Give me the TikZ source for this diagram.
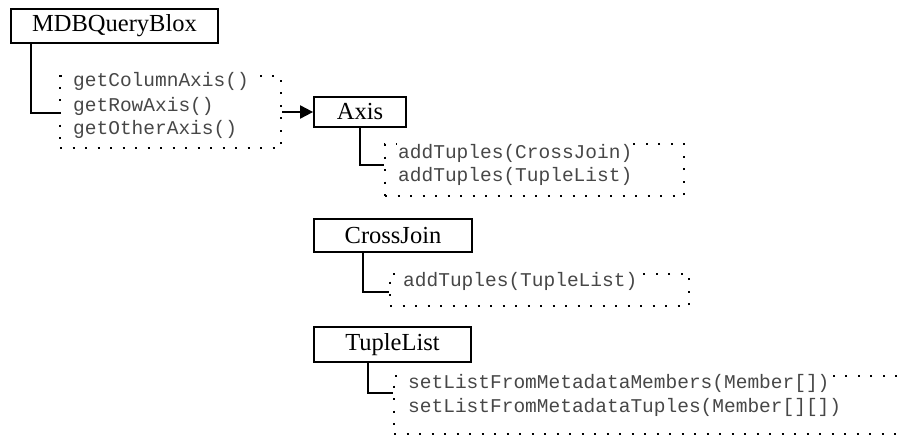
\documentclass[tikz,border=0pt]{standalone}
\usepackage{fontspec}
\setmainfont{Liberation Serif}
\newfontfamily\methfont{Liberation Mono}
\usetikzlibrary{arrows.meta}

\tikzset{
  classbox/.style={draw=black, line width=1.8pt, fill=white, inner sep=0pt,
    font=\fontsize{24.5}{26}\selectfont},
  dotbox/.style={draw=black, line width=2pt, dash pattern=on 2pt off 10.5pt,
    inner sep=0pt},
  meth/.style={anchor=base west, fill=white, inner sep=1pt, text=black!72,
    font=\methfont\fontsize{19.5}{22}\selectfont},
  link/.style={line width=2.2pt},
}

\begin{document}
\begin{tikzpicture}[x=1pt, y=-1pt]
  \useasboundingbox (0,0) rectangle (902,436);
  \clip (0,0) rectangle (902,436);

  % class boxes
  \node[classbox, minimum width=207pt, minimum height=34pt] (mdb) at (114.5,26) {MDBQueryBlox};
  \node[classbox, minimum width=92pt, minimum height=30pt] (axis) at (360,112) {Axis};
  \node[classbox, minimum width=158pt, minimum height=33pt] (cj) at (393,235.5) {CrossJoin};
  \node[classbox, minimum width=157pt, minimum height=35pt] (tl) at (392.5,344.5) {TupleList};

  % dotted method boxes
  \node[dotbox, anchor=north west, minimum width=221pt, minimum height=72pt] (m1) at (59,75) {};
  \node[dotbox, anchor=north west, minimum width=299pt, minimum height=52pt] (m2) at (384,143) {};
  \node[dotbox, anchor=north west, minimum width=299pt, minimum height=32pt] (m3) at (389,273) {};
  \node[dotbox, anchor=north west, minimum width=560pt, minimum height=58pt] (m4) at (393,375) {};

  % method names
  \node[meth] (t1a) at (72,86) {getColumnAxis()};
  \node[meth] (t1b) at (72,111) {getRowAxis()};
  \node[meth] (t1c) at (72,134) {getOtherAxis()};
  \node[meth] (t2a) at (397,158) {addTuples(CrossJoin)};
  \node[meth] (t2b) at (397,181) {addTuples(TupleList)};
  \node[meth] (t3a) at (402,286) {addTuples(TupleList)};
  \node[meth] (t4a) at (407,388) {setListFromMetadataMembers(Member[])};
  \node[meth] (t4b) at (407,412) {setListFromMetadataTuples(Member[][])};

  % attachment points on the dotted boxes
  \coordinate (c1) at (59,113);
  \coordinate (c2) at (384,165);
  \coordinate (c3) at (389,292);
  \coordinate (c4) at (393,393);

  % connectors from each class to its methods
  \draw[link] (mdb.south -| 31,0) |- (c1);
  \draw[link] (axis.south) |- (c2);
  \draw[link] (cj.south -| 363,0) |- (c3);
  \draw[link] (tl.south -| 368,0) |- (c4);

  % returned object
  \draw[line width=2pt, -{Triangle[length=13pt,width=13pt]}] (m1.east |- axis.west) -- (axis.west);
\end{tikzpicture}
\end{document}
